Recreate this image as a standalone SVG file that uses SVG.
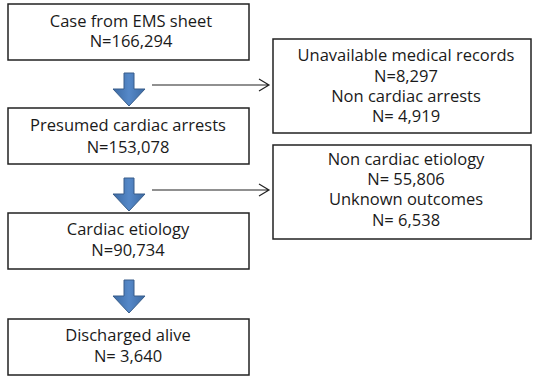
<svg xmlns="http://www.w3.org/2000/svg" width="533" height="377" viewBox="0 0 533 377">
<defs>
<style>
.box{fill:#fff;stroke:#222;stroke-width:1.5}
text{font-family:"Open Sans","DejaVu Sans",sans-serif;font-size:16.5px;fill:#1a1a1a;text-anchor:middle}
.thin{stroke:#222;stroke-width:1.2;fill:none}
</style>
<linearGradient id="g" x1="0" y1="0" x2="1" y2="0">
<stop offset="0" stop-color="#3c6aa3"/><stop offset="0.5" stop-color="#5588c8"/><stop offset="1" stop-color="#3c6aa3"/>
</linearGradient>
<symbol id="down" viewBox="0 0 32 33" overflow="visible">
<path d="M11,0 H21 V16 H32 L16,33 L0,16 H11 Z" fill="url(#g)" stroke="#385d8a" stroke-width="1"/>
</symbol>
</defs>
<g id="n1"><rect class="box" x="8" y="4" width="241" height="56"/><text x="131" y="27">Case from EMS sheet</text><text x="131" y="47">N=166,294</text></g>
<g id="n2"><rect class="box" x="8" y="108" width="241" height="56"/><text x="128" y="131">Presumed cardiac arrests</text><text x="128" y="153">N=153,078</text></g>
<g id="n3"><rect class="box" x="8" y="213" width="241" height="56"/><text x="128" y="235">Cardiac etiology</text><text x="128" y="256">N=90,734</text></g>
<g id="n4"><rect class="box" x="8" y="319" width="241" height="56"/><text x="128" y="341">Discharged alive</text><text x="128" y="362">N= 3,640</text></g>
<g id="n5"><rect class="box" x="273" y="39" width="258" height="94"/><text x="406" y="61">Unavailable medical records</text><text x="406" y="82">N=8,297</text><text x="406" y="102">Non cardiac arrests</text><text x="406" y="122">N= 4,919</text></g>
<g id="n6"><rect class="box" x="273" y="145" width="258" height="94"/><text x="406" y="165">Non cardiac etiology</text><text x="406" y="185">N= 55,806</text><text x="406" y="205">Unknown outcomes</text><text x="406" y="226">N= 6,538</text></g>
<g id="connectors">
<use href="#down" x="113" y="73" width="32" height="33"/>
<use href="#down" x="113" y="178" width="32" height="33"/>
<use href="#down" x="113" y="280" width="32" height="33"/>
<path class="thin" d="M152,85 H269 M259,79 L269,85 L259,91"/>
<path class="thin" d="M152,190 H269 M259,184 L269,190 L259,196"/>
</g>
</svg>
